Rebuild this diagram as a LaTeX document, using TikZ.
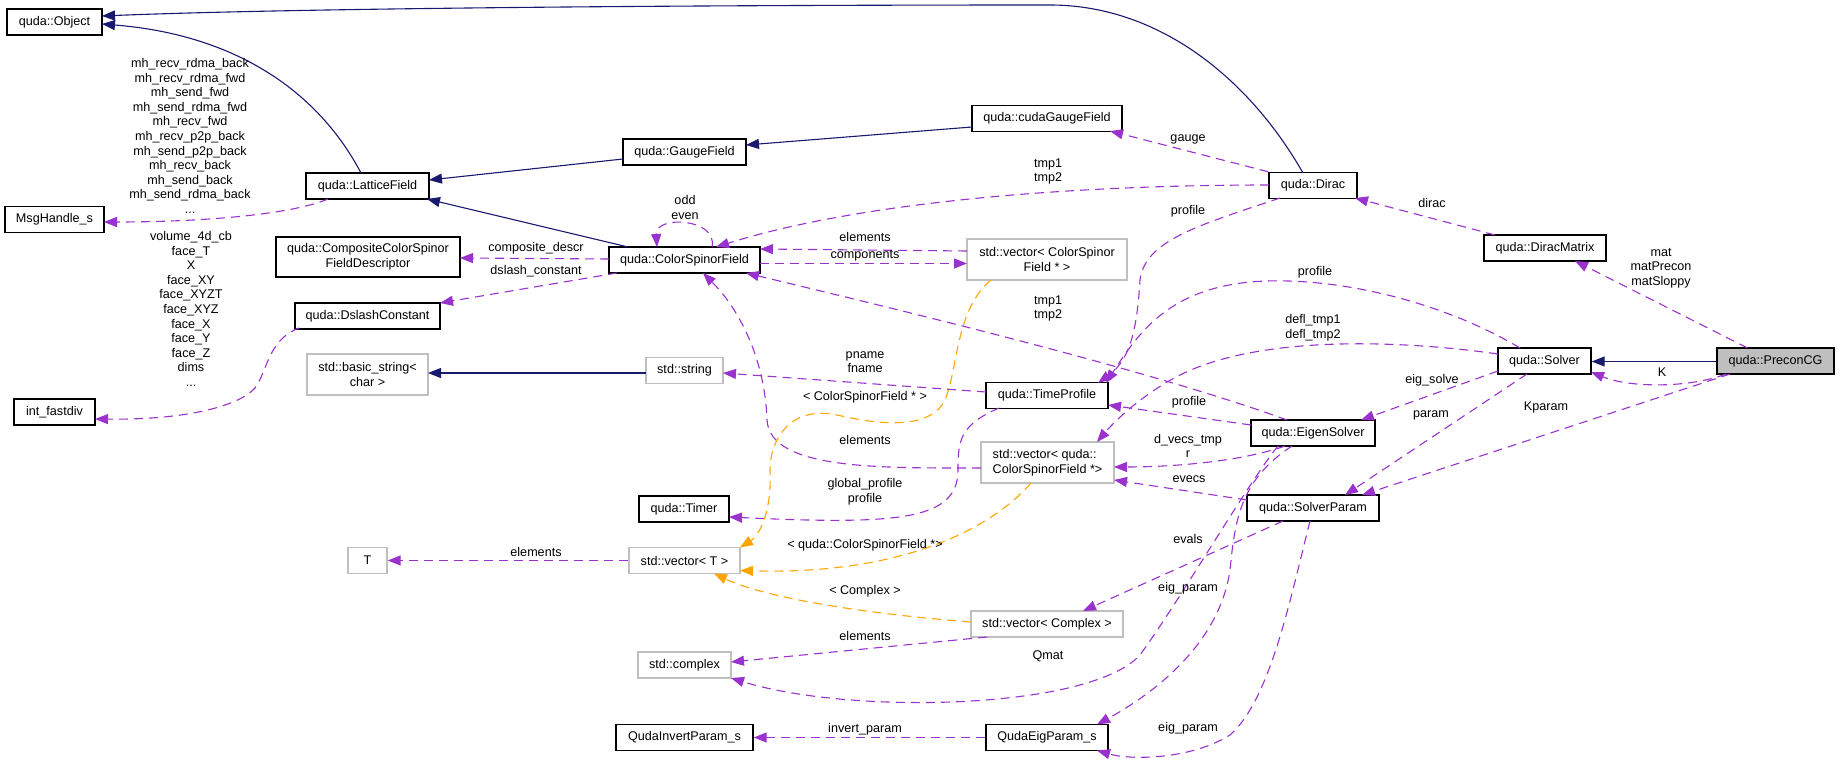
\documentclass[tikz,border=0pt]{standalone}
\usepackage{fontspec}
\setmainfont{Liberation Sans}
\usetikzlibrary{arrows.meta}
\definecolor{navy}{HTML}{191970}
\definecolor{orch}{HTML}{9A32CD}
\definecolor{orng}{HTML}{FFA500}
\definecolor{lgray}{HTML}{BFBFBF}
\begin{document}
\begin{tikzpicture}[x=1pt,y=-1pt,
  every node/.style={font=\fontsize{12.6pt}{14.6pt}\selectfont},
  cls/.style={draw=black,line width=1.4pt,fill=white,minimum height=26pt,inner sep=0pt,align=center},
  ext/.style={cls,draw=lgray},
  lbl/.style={inner sep=0pt,align=center},
  inh/.style={draw=navy,line width=1.1pt,-{Triangle[length=13pt,width=10pt]}},
  use/.style={draw=orch,line width=1.1pt,dash pattern=on 9pt off 6pt,-{Triangle[length=13pt,width=10pt]}},
  tpl/.style={use,draw=orng}]
\fill[white] (0,0) rectangle (1839,762);
\useasboundingbox (0,0) rectangle (1839,762);
% nodes
\node[cls,minimum width=95pt] (obj) at (54.5,22) {quda::Object};
\node[cls,minimum width=99pt] (msg) at (54.5,219.5) {MsgHandle\_s};
\node[cls,minimum width=81pt] (ifd) at (54.5,412) {int\_fastdiv};
\node[cls,minimum width=123pt] (lat) at (367.5,186) {quda::LatticeField};
\node[cls,minimum width=184pt,minimum height=40pt] (comp) at (368,257) {quda::CompositeColorSpinor\\FieldDescriptor};
\node[cls,minimum width=145pt] (dsl) at (367.5,316) {quda::DslashConstant};
\node[ext,minimum width=121pt,minimum height=41pt] (bstr) at (367.5,374.5) {std::basic\_string<\\char >};
\node[ext,minimum width=39pt] (tT) at (367.5,560.5) {T};
\node[cls,minimum width=123pt] (gf) at (684.5,152) {quda::GaugeField};
\node[cls,minimum width=151pt] (csf) at (684.5,260) {quda::ColorSpinorField};
\node[ext,minimum width=77pt] (str) at (684.5,370.5) {std::string};
\node[cls,minimum width=90pt] (timer) at (684,509) {quda::Timer};
\node[ext,minimum width=111pt] (vT) at (684.5,560.5) {std::vector< T >};
\node[ext,minimum width=93pt] (cplx) at (684.5,665) {std::complex};
\node[cls,minimum width=137pt] (qip) at (684.5,737.5) {QudaInvertParam\_s};
\node[cls,minimum width=150pt] (cgf) at (1047,118.5) {quda::cudaGaugeField};
\node[ext,minimum width=160pt,minimum height=41pt] (vcsf) at (1047,259.5) {std::vector< ColorSpinor\\Field * >};
\node[cls,minimum width=122pt] (tp) at (1047,395.5) {quda::TimeProfile};
\node[ext,minimum width=133pt,minimum height=41pt,align=left] (vqcsf) at (1047.5,462.5) {std::vector< quda::\\ColorSpinorField *>};
\node[ext,minimum width=152pt] (vcx) at (1047,624) {std::vector< Complex >};
\node[cls,minimum width=122pt] (qep) at (1047,737.5) {QudaEigParam\_s};
\node[cls,minimum width=88pt] (dirac) at (1313,185.5) {quda::Dirac};
\node[cls,minimum width=124pt] (es) at (1313,433) {quda::EigenSolver};
\node[cls,minimum width=132pt] (sp) at (1313,508) {quda::SolverParam};
\node[cls,minimum width=122pt] (dm) at (1545,248) {quda::DiracMatrix};
\node[cls,minimum width=93pt] (solver) at (1544.5,361) {quda::Solver};
\node[cls,minimum width=117pt,fill=lgray] (pcg) at (1775.5,361) {quda::PreconCG};
% inheritance
\draw[inh] ([shift={(-6.5,-13)}]lat.center) .. controls (320,95) and (240,35) .. ([shift={(47.5,2)}]obj.center);
\draw[inh] ([shift={(-10,-12.5)}]dirac.center) .. controls (1250,80) and (1160,5) .. (1050,5) .. controls (700,5) and (300,8) .. ([shift={(47.5,-6)}]obj.center);
\draw[inh] ([shift={(-61.5,7)}]gf.center) -- ([shift={(61.5,-6)}]lat.center);
\draw[inh] ([shift={(-56.5,-13)}]csf.center) -- ([shift={(59.5,13)}]lat.center);
\draw[inh] ([shift={(-75,8.5)}]cgf.center) -- ([shift={(61.5,-7)}]gf.center);
\draw[inh] ([shift={(-38.5,2.5)}]str.center) -- ([shift={(60.5,-1.5)}]bstr.center);
\draw[inh] ([shift={(0,0.5)}]pcg.west) -- ([shift={(0,0.5)}]solver.east);
% usage
\draw[use] ([shift={(-39.5,13)}]lat.center) .. controls (290,215) and (200,222) .. ([shift={(49.5,2.5)}]msg.center);
\draw[use] ([shift={(-75.5,-1)}]csf.center) -- ([shift={(92,1)}]comp.center);
\draw[use] ([shift={(-67.5,13)}]csf.center) -- ([shift={(72.5,-13)}]dsl.center);
\draw[use] ([shift={(-68.5,12)}]dsl.center) .. controls (268,340) and (268,370) .. (255,388) .. controls (240,405) and (190,420) .. ([shift={(40.5,7)}]ifd.center);
\draw[use] (vT.west) -- (tT.east);
\draw[use] ([shift={(27.5,-13)}]csf.center) .. controls (718,218) and (655,215) .. ([shift={(-27.5,-13)}]csf.center);
\draw[use] ([shift={(-80,-8.5)}]vcsf.center) -- ([shift={(75.5,-11)}]csf.center);
\draw[use] ([shift={(75.5,3.5)}]csf.center) -- ([shift={(-80,4)}]vcsf.center);
\draw[use] ([shift={(-44,-0.5)}]dirac.center) .. controls (1050,185) and (850,205) .. ([shift={(31.5,-13)}]csf.center);
\draw[use] (dirac.north west) -- ([shift={(63,12.5)}]cgf.center);
\draw[use] ([shift={(-50,-13)}]dm.center) -- ([shift={(42,12.5)}]dirac.center);
\draw[use] ([shift={(-28,-13)}]pcg.center) -- ([shift={(30,13)}]dm.center);
\draw[use] ([shift={(-49.5,13)}]pcg.center) .. controls (1690,388) and (1630,388) .. ([shift={(46.5,11)}]solver.center);
\draw[use] ([shift={(-45.5,13)}]pcg.center) -- ([shift={(49,-13)}]sp.center);
\draw[use] ([shift={(-17.5,13)}]solver.center) -- ([shift={(32,-13)}]sp.center);
\draw[use] ([shift={(-46.5,10)}]solver.center) -- ([shift={(48,-13)}]es.center);
\draw[use] ([shift={(-24.5,-13)}]solver.center) .. controls (1440,300) and (1330,275) .. (1250,282) .. controls (1170,290) and (1140,330) .. ([shift={(59,-12.5)}]tp.center);
\draw[use] ([shift={(-46.5,-7)}]solver.center) .. controls (1400,340) and (1260,335) .. (1180,375) .. controls (1150,390) and (1120,415) .. ([shift={(49.5,-20.5)}]vqcsf.center);
\draw[use] ([shift={(-26,-13)}]es.center) .. controls (1150,370) and (900,310) .. ([shift={(61.5,13)}]csf.center);
\draw[use] ([shift={(-62,-8)}]es.center) -- ([shift={(61,9.5)}]tp.center);
\draw[use] ([shift={(-28,13)}]es.center) .. controls (1240,462) and (1170,467) .. ([shift={(66.5,4.5)}]vqcsf.center);
\draw[use] ([shift={(-66,-8)}]sp.center) -- ([shift={(66.5,17.5)}]vqcsf.center);
\draw[use] ([shift={(-21,13)}]es.center) .. controls (1240,480) and (1235,520) .. (1230,570) .. controls (1220,640) and (1160,690) .. ([shift={(50,-13)}]qep.center);
\draw[use] ([shift={(-35,13)}]es.center) .. controls (1250,480) and (1180,600) .. (1140,655) .. controls (1090,710) and (850,715) .. ([shift={(46.5,13)}]cplx.center);
\draw[use] ([shift={(-30,13)}]sp.center) -- ([shift={(36,-13)}]vcx.center);
\draw[use] ([shift={(-3,13)}]sp.center) .. controls (1290,600) and (1270,700) .. (1230,735) .. controls (1190,760) and (1130,760) .. ([shift={(50,13)}]qep.center);
\draw[use] ([shift={(-66.5,5.5)}]vqcsf.center) .. controls (880,468) and (770,470) .. (767,420) .. controls (765,360) and (740,310) .. ([shift={(18.5,13)}]csf.center);
\draw[use] ([shift={(-61,-3.5)}]tp.center) -- ([shift={(38.5,2.5)}]str.center);
\draw[use] ([shift={(-48,12.5)}]tp.center) .. controls (960,425) and (958,440) .. (958,470) .. controls (958,520) and (900,525) .. ([shift={(45,8)}]timer.center);
\draw[use] ([shift={(-60,13)}]vcx.center) -- ([shift={(46.5,-3)}]cplx.center);
\draw[use] (qep.west) -- (qip.east);
\draw[use] ([shift={(-33,12.5)}]dirac.center) .. controls (1200,225) and (1145,240) .. (1140,280) .. controls (1137,330) and (1130,360) .. ([shift={(51,-12.5)}]tp.center);
% template instances
\draw[tpl] ([shift={(-56,20.5)}]vcsf.center) .. controls (955,310) and (958,370) .. (945,400) .. controls (930,430) and (880,425) .. (837,415) .. controls (790,405) and (770,440) .. (770,470) .. controls (772,510) and (760,535) .. ([shift={(55.5,-13)}]vT.center);
\draw[tpl] ([shift={(-16.5,20.5)}]vqcsf.center) .. controls (990,530) and (900,575) .. ([shift={(55.5,10)}]vT.center);
\draw[tpl] ([shift={(-76,-2)}]vcx.center) .. controls (880,615) and (770,600) .. ([shift={(29.5,13)}]vT.center);
% labels
\node[lbl] (lmh) at (190,136) {mh\_recv\_rdma\_back\\mh\_recv\_rdma\_fwd\\mh\_send\_fwd\\mh\_send\_rdma\_fwd\\mh\_recv\_fwd\\mh\_recv\_p2p\_back\\mh\_send\_p2p\_back\\mh\_recv\_back\\mh\_send\_back\\mh\_send\_rdma\_back\\...};
\node[lbl] (lvol) at (191,309) {volume\_4d\_cb\\face\_T\\X\\face\_XY\\face\_XYZT\\face\_XYZ\\face\_X\\face\_Y\\face\_Z\\dims\\...};
\node[lbl] (lcd) at (536,248) {composite\_descr};
\node[lbl] (ldc) at (536,271) {dslash\_constant};
\node[lbl] (lel1) at (536,552) {elements};
\node[lbl] (loe) at (685,207.5) {odd\\even};
\node[lbl] (lel2) at (865,237) {elements};
\node[lbl] (lcomp) at (865,256) {components};
\node[lbl] (ltmpa) at (1048,171.5) {tmp1\\tmp2};
\node[lbl] (ltmpb) at (1048,308.5) {tmp1\\tmp2};
\node[lbl] (lpn) at (865,362) {pname\\fname};
\node[lbl] (lcsft) at (865,397) {< ColorSpinorField * >};
\node[lbl] (lel3) at (865,440) {elements};
\node[lbl] (lgp) at (865,492) {global\_profile\\profile};
\node[lbl] (lqcsft) at (865,545) {< quda::ColorSpinorField *>};
\node[lbl] (lcxt) at (865,591) {< Complex >};
\node[lbl] (lel4) at (865,636) {elements};
\node[lbl] (linv) at (865,729) {invert\_param};
\node[lbl] (lqmat) at (1048,656) {Qmat};
\node[lbl] (lgauge) at (1188,139) {gauge};
\node[lbl] (lprof1) at (1188,211) {profile};
\node[lbl] (lprof3) at (1189,402) {profile};
\node[lbl] (ldv) at (1188,446) {d\_vecs\_tmp\\r};
\node[lbl] (levecs) at (1189,479) {evecs};
\node[lbl] (levals) at (1188,539) {evals};
\node[lbl] (lep1) at (1188,588) {eig\_param};
\node[lbl] (lep2) at (1188,728) {eig\_param};
\node[lbl] (ldirac) at (1432,203) {dirac};
\node[lbl] (lmat) at (1661,268) {mat\\matPrecon\\matSloppy};
\node[lbl] (lprof2) at (1315,272) {profile};
\node[lbl] (ldefl) at (1313,327.5) {defl\_tmp1\\defl\_tmp2};
\node[lbl] (leig) at (1432,380) {eig\_solve};
\node[lbl] (lparam) at (1431,415) {param};
\node[lbl] (lK) at (1662,372) {K};
\node[lbl] (lkp) at (1546,407) {Kparam};
\end{tikzpicture}
\end{document}
